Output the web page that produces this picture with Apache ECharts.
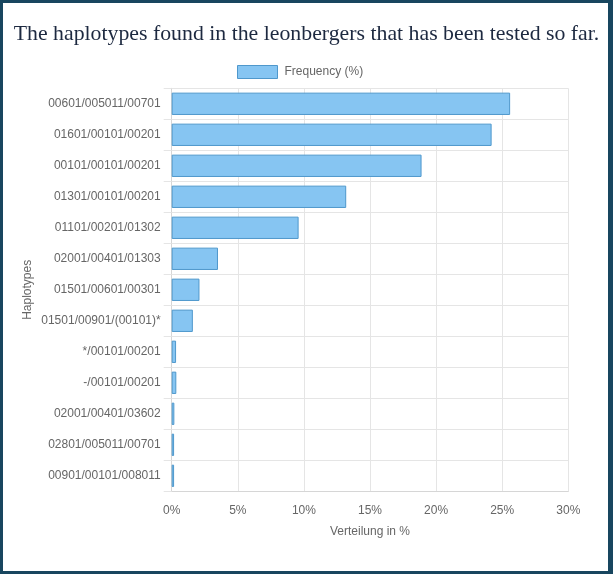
<!DOCTYPE html>
<html>
<head>
<meta charset="utf-8">
<script src="https://cdn.jsdelivr.net/npm/echarts@6/dist/echarts.min.js"></script>
<style>
html,body{margin:0;padding:0;background:#fff;}
#c{width:613px;height:574px;}
</style>
</head>
<body>
<div id="c"></div>
<script>
const categories = [
  "00601/005011/00701",
  "01601/00101/00201",
  "00101/00101/00201",
  "01301/00101/00201",
  "01101/00201/01302",
  "02001/00401/01303",
  "01501/00601/00301",
  "01501/00901/(00101)*",
  "*/00101/00201",
  "-/00101/00201",
  "02001/00401/03602",
  "02801/005011/00701",
  "00901/00101/008011"
];
const frequency = [25.6, 24.2, 18.9, 13.2, 9.6, 3.5, 2.1, 1.6, 0.33, 0.35, 0.2, 0.18, 0.18];
const xTicks = { min: 0, max: 30, step: 5 };
const seriesName = "Frequency (%)";
const titleText = "The haplotypes found in the leonbergers that has been tested so far.";

const chart = echarts.init(document.getElementById('c'), null, {renderer: 'canvas'});
const fill = '#86c5f2';
const edge = '#4f98cc';
const gridColor = '#e5e5e5';
const txt = '#666666';
const font = 'Liberation Sans, Arial, sans-serif';

chart.setOption({
  animation: false,
  title: {
    text: titleText,
    left: 'center',
    top: 18,
    textStyle: {fontFamily: 'Liberation Serif, serif', fontWeight: 'normal', fontSize: 21.8, color: '#1d2940'}
  },
  legend: {
    top: 60,
    left: 232,
    itemWidth: 40,
    itemHeight: 13,
    itemGap: 10,
    icon: 'rect',
    itemStyle: {borderWidth: 1, borderColor: edge, color: fill},
    textStyle: {fontFamily: font, fontSize: 12, color: txt, padding: [0, 0, 0, 2]},
    data: [seriesName]
  },
  grid: {left: 171.7, right: 44.7, top: 88.3, height: 403, containLabel: false},
  xAxis: {
    type: 'value',
    min: xTicks.min, max: xTicks.max, interval: xTicks.step,
    name: 'Verteilung in %',
    nameLocation: 'middle',
    nameGap: 34,
    nameMoveOverlap: false,
    nameTextStyle: {fontFamily: font, fontSize: 12, color: txt, verticalAlign: 'top'},
    axisLine: {show: true, lineStyle: {color: '#d6d6d6'}},
    axisTick: {show: false},
    splitLine: {show: true, lineStyle: {color: gridColor}},
    axisLabel: {formatter: '{value}%', fontFamily: font, fontSize: 12, color: txt, margin: 13}
  },
  yAxis: {
    type: 'category',
    inverse: true,
    data: categories,
    name: 'Haplotypes',
    nameLocation: 'middle',
    nameGap: 138,
    nameMoveOverlap: false,
    nameRotate: 90,
    nameTextStyle: {fontFamily: font, fontSize: 12, color: txt},
    axisLine: {show: true, lineStyle: {color: '#d6d6d6'}},
    axisTick: {show: true, length: 8, lineStyle: {color: gridColor}},
    splitLine: {show: true, lineStyle: {color: gridColor}},
    axisLabel: {fontFamily: font, fontSize: 12, color: txt, margin: 11}
  },
  series: [{
    name: seriesName,
    type: 'bar',
    data: frequency,
    barWidth: '72%',
    itemStyle: {color: fill, borderColor: edge, borderWidth: 1}
  }],
  graphic: [
    {type: 'rect', silent: true, z: 100, shape: {x: 0, y: 0, width: 613, height: 3}, style: {fill: '#18465f'}},
    {type: 'rect', silent: true, z: 100, shape: {x: 0, y: 571, width: 613, height: 3}, style: {fill: '#18465f'}},
    {type: 'rect', silent: true, z: 100, shape: {x: 0, y: 0, width: 3, height: 574}, style: {fill: '#18465f'}},
    {type: 'rect', silent: true, z: 100, shape: {x: 608, y: 0, width: 5, height: 574}, style: {fill: '#18465f'}}
  ]
});
</script>
</body>
</html>
